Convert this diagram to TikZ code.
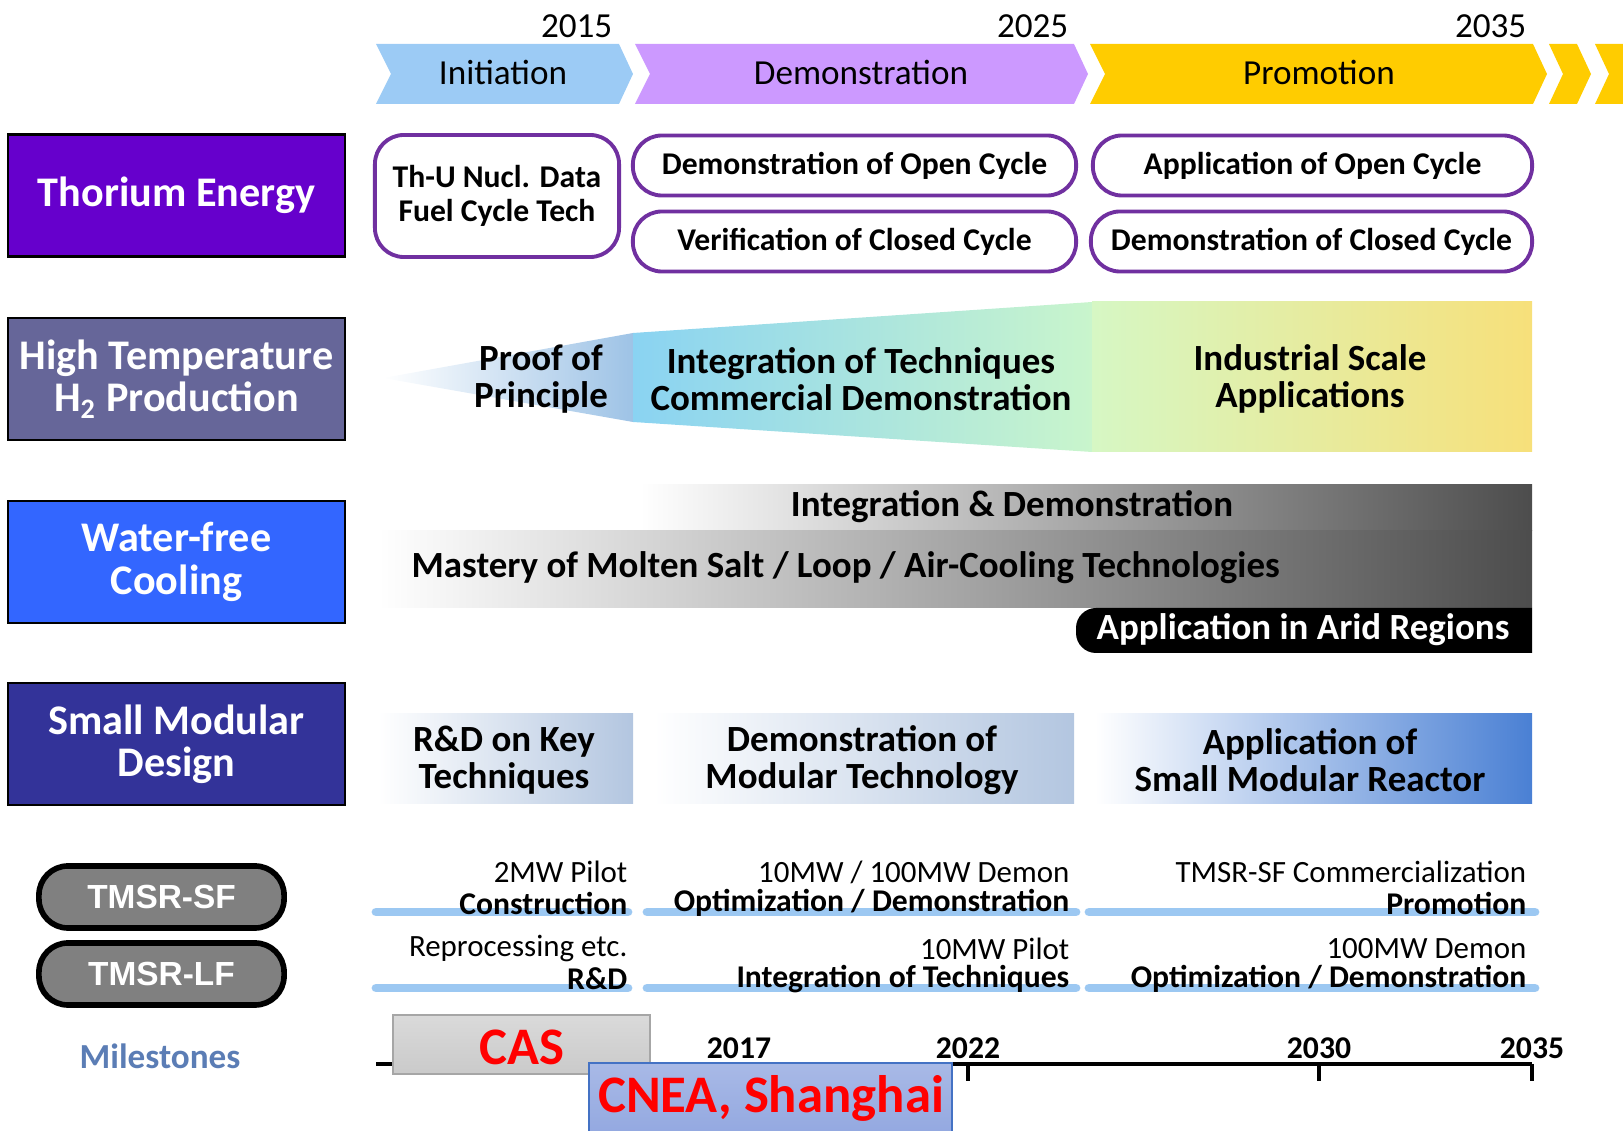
\documentclass[tikz,border=0pt]{standalone}
\usepackage{fontspec}
\setmainfont{Carlito}
\newfontfamily\pillfont{Liberation Sans}
\usetikzlibrary{positioning}

\definecolor{chevBlue}{HTML}{9CCBF5}
\definecolor{chevPurple}{HTML}{CC99FF}
\definecolor{chevGold}{HTML}{FFCC00}
\definecolor{catThorium}{HTML}{6600CC}
\definecolor{catHydro}{HTML}{666699}
\definecolor{catWater}{HTML}{3366FF}
\definecolor{catSmr}{HTML}{333399}
\definecolor{rimPurple}{HTML}{7030A0}
\definecolor{hydroTip}{HTML}{9EC3E6}
\definecolor{hydroA}{HTML}{8AD3F2}
\definecolor{hydroB}{HTML}{C9F5CC}
\definecolor{hydroC}{HTML}{D6F7C4}
\definecolor{hydroD}{HTML}{F7E07A}
\definecolor{smrPale}{HTML}{B3C6E0}
\definecolor{smrDeep}{HTML}{4A80D4}
\definecolor{lineBlue}{HTML}{9CC8F2}
\definecolor{pillGray}{HTML}{808080}
\definecolor{mileBlue}{HTML}{5B7DB5}
\definecolor{casGray}{HTML}{CACACA}
\definecolor{cneaBlue}{HTML}{93A8E0}
\definecolor{cneaRim}{HTML}{4472C4}

\tikzset{
  catbox/.style={draw=black, line width=0.6pt, text=white, align=center,
    minimum width=3.37cm, minimum height=1.22cm,
    font=\fontsize{12}{12}\selectfont\bfseries},
  rbox/.style={draw=rimPurple, line width=1.1pt, fill=white, rounded corners=0.29cm,
    align=center, minimum height=0.6cm, font=\fontsize{9}{9.5}\selectfont\bfseries},
  phase/.style={font=\fontsize{10}{10}\selectfont},
  band/.style={align=center, font=\fontsize{10.5}{10.7}\selectfont\bfseries},
  pill/.style={draw=black, line width=1.6pt, fill=pillGray, rounded corners=0.29cm,
    minimum width=2.45cm, minimum height=0.62cm, text=white,
    font=\pillfont\fontsize{9.5}{10}\selectfont\bfseries},
  upper/.style={anchor=east, inner sep=0pt, font=\fontsize{8.8}{9}\selectfont},
  lower/.style={anchor=east, inner sep=0pt, font=\fontsize{9}{9}\selectfont\bfseries},
  track/.style={lineBlue, line width=2.5pt, line cap=round},
  year/.style={font=\fontsize{9}{9}\selectfont\bfseries}
}

\begin{document}
\begin{tikzpicture}[x=0.01cm, y=-0.01cm]
  \useasboundingbox (0,0) rectangle (1623,1131);

  % phases on top
  \fill[chevBlue] (376,44) -- (619,44) -- (633,74) -- (619,104) -- (376,104) -- (391,74) -- cycle;
  \fill[chevPurple] (635,44) -- (1074,44) -- (1088,74) -- (1074,104) -- (635,104) -- (650,74) -- cycle;
  \fill[chevGold] (1090,44) -- (1533,44) -- (1547,74) -- (1533,104) -- (1090,104) -- (1105,74) -- cycle;
  \begin{scope}
    \clip (0,0) rectangle (1623,1131);
    \foreach \x in {1549,1595}
      \fill[chevGold] (\x,44) -- (\x+28,44) -- (\x+42,74) -- (\x+28,104) -- (\x,104) -- (\x+14,74) -- cycle;
  \end{scope}
  \node[phase] (init) at (503,72) {Initiation};
  \node[phase] (demo) at (861,72) {Demonstration};
  \node[phase] (promo) at (1319,72) {Promotion};
  \node[phase, anchor=east, inner sep=0pt] (y2015) at (613,26) {2015};
  \node[phase, anchor=east, inner sep=0pt] (y2025) at (1069,26) {2025};
  \node[phase, anchor=east, inner sep=0pt] (y2035) at (1527,26) {2035};

  % categories
  \node[catbox, fill=catThorium] (thorium) at (176.5,195.5) {Thorium Energy};
  \node[catbox, fill=catHydro] (hydro) at (176.5,379) {High Temperature\\H\textsubscript{2} Production};
  \node[catbox, fill=catWater] (water) at (176.5,562) {Water-free\\Cooling};
  \node[catbox, fill=catSmr] (smr) at (176.5,744) {Small Modular\\Design};

  % thorium energy
  \node[rbox, minimum width=2.44cm, minimum height=1.22cm] (nucl) at (497,196) {Th-U Nucl. Data\\Fuel Cycle Tech};
  \node[rbox, minimum width=4.43cm] (openA) at (854.5,165.5) {Demonstration of Open Cycle};
  \node[rbox, minimum width=4.43cm] (closedA) at (854.5,241.5) {Verification of Closed Cycle};
  \node[rbox, minimum width=4.39cm] (openB) at (1312.5,165.5) {Application of Open Cycle};
  \node[rbox, minimum width=4.41cm] (closedB) at (1311.5,241.5) {Demonstration of Closed Cycle};

  % hydrogen funnel
  \shade[left color=white, right color=hydroTip] (383,378) -- (633,333) -- (633,422) -- cycle;
  \shade[left color=hydroA, right color=hydroB] (633,333) -- (1092,302) -- (1092,452) -- (633,422) -- cycle;
  \shade[left color=hydroC, right color=hydroD] (1092,302) rectangle (1532,452);
  \node[band] (proof) at (541,379) {Proof of\\Principle};
  \node[band] (integ) at (861,379) {Integration of Techniques\\Commercial Demonstration};
  \node[band] (indus) at (1310,379) {Industrial Scale\\Applications};

  % water-free cooling
  \shade[left color=white, right color=black!70] (640,485) rectangle (1532,531);
  \shade[left color=white, right color=black!70] (378,531) rectangle (1532,608);
  \fill (1532,608) [rounded corners=0.2cm] -- (1076,608) -- (1076,653) [sharp corners] -- (1532,653) -- cycle;
  \node[band] (intdemo) at (1012,507) {Integration \& Demonstration};
  \node[band, anchor=west, inner sep=0pt] (mastery) at (411,568) {Mastery of Molten Salt / Loop / Air-Cooling Technologies};
  \node[band, text=white] (arid) at (1303,630) {Application in Arid Regions};

  % small modular design
  \shade[left color=white, right color=smrPale] (378,714) rectangle (633,804);
  \shade[left color=white, right color=smrPale] (654,714) rectangle (1074,804);
  \shade[left color=white, middle color=chevBlue!70, right color=smrDeep] (1095,714) rectangle (1532,804);
  \node[band] (keytech) at (504,760) {R\&D on Key\\Techniques};
  \node[band] (modtech) at (862,760) {Demonstration of\\Modular Technology};
  \node[band] (smrapp) at (1310,760) {Application of\\Small Modular Reactor};

  % tmsr tracks
  \node[pill] (sf) at (161.5,897) {TMSR-SF};
  \node[pill] (lf) at (161.5,974) {TMSR-LF};
  \draw[track] (376,912) -- (628,912);
  \draw[track] (647,912) -- (1076,912);
  \draw[track] (1089,912) -- (1535,912);
  \draw[track] (376,988) -- (628,988);
  \draw[track] (647,988) -- (1076,988);
  \draw[track] (1089,988) -- (1535,988);
  \node[upper] (sfA) at (628,872) {2MW Pilot};
  \node[lower] (sfB) at (628,903) {Construction};
  \node[upper] (sfC) at (1070,872) {10MW / 100MW Demon};
  \node[lower] (sfD) at (1070,903) {Optimization / Demonstration};
  \node[upper] (sfE) at (1527,872) {TMSR-SF Commercialization};
  \node[lower] (sfF) at (1527,903) {Promotion};
  \node[upper] (lfA) at (628,949) {Reprocessing etc.};
  \node[lower] (lfB) at (628,979) {R\&D};
  \node[upper] (lfC) at (1070,949) {10MW Pilot};
  \node[lower] (lfD) at (1070,979) {Integration of Techniques};
  \node[upper] (lfE) at (1527,949) {100MW Demon};
  \node[lower] (lfF) at (1527,979) {Optimization / Demonstration};

  % milestones
  \node[text=mileBlue, font=\fontsize{10}{10}\selectfont\bfseries] (mile) at (160,1056) {Milestones};
  \draw[line width=1.1pt] (376,1064) -- (1532,1064);
  \foreach \x in {968,1319,1532}
    \draw[line width=1.1pt] (\x,1064) -- (\x,1081);
  \node[year] (m2017) at (739,1048) {2017};
  \node[year] (m2022) at (968,1048) {2022};
  \node[year] (m2030) at (1319,1048) {2030};
  \node[year] (m2035) at (1532,1048) {2035};
  \shade[top color=casGray!70, bottom color=casGray, draw=black!35] (393,1015) rectangle (650,1074);
  \node[text=red, font=\fontsize{15}{15}\selectfont\bfseries] (cas) at (522,1047) {CAS};
  \shade[top color=cneaBlue!80, bottom color=cneaBlue, draw=cneaRim, line width=0.6pt] (589,1063) rectangle (952,1135);
  \node[text=red, font=\fontsize{15}{15}\selectfont\bfseries] (cnea) at (771,1098) {CNEA, Shanghai};
\end{tikzpicture}
\end{document}
